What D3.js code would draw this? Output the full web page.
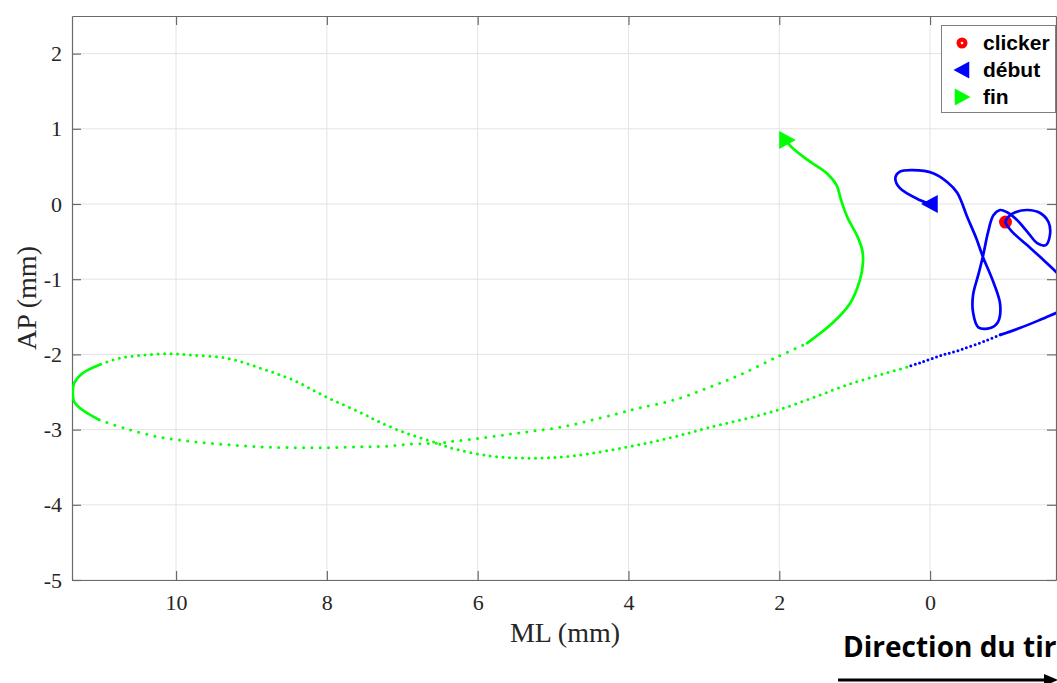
<!DOCTYPE html>
<html>
<head>
<meta charset="utf-8">
<script src="https://cdn.jsdelivr.net/npm/d3@7"></script>
<style>
  html, body { margin: 0; padding: 0; background: #fff; }
  svg { display: block; }
</style>
</head>
<body>
<svg id="chart" width="1057" height="683"></svg>
<script>
// ---------------- DATA (ML, AP in mm) ----------------
const xTicks = [10, 8, 6, 4, 2, 0];
const yTicks = [-5, -4, -3, -2, -1, 0, 1, 2];
const legendLabels = ["clicker", "début", "fin"];

// blue trajectory, dense (solid-looking) part
const blueSolid = [
  [0, 0], [0.13, 0.05], [0.40, 0.21], [0.46, 0.35], [0.40, 0.43], [0.23, 0.45],
  [-0.04, 0.41], [-0.23, 0.29], [-0.36, 0.15], [-0.50, -0.19], [-0.61, -0.45],
  [-0.70, -0.70], [-0.84, -1.04], [-0.93, -1.34], [-0.90, -1.57], [-0.80, -1.65],
  [-0.64, -1.64], [-0.57, -1.44], [-0.57, -1.21], [-0.64, -0.94], [-0.70, -0.70],
  [-0.77, -0.37], [-0.84, -0.15], [-0.93, -0.08], [-1.02, -0.11], [-1.15, -0.21],
  [-1.29, -0.37], [-1.42, -0.52], [-1.53, -0.55], [-1.59, -0.41], [-1.57, -0.24],
  [-1.46, -0.12], [-1.29, -0.08], [-1.13, -0.11], [-1.04, -0.17], [-1.00, -0.24],
  [-1.09, -0.37], [-1.29, -0.55], [-1.50, -0.74], [-1.69, -0.92], [-1.88, -1.08],
  [-1.96, -1.25], [-1.86, -1.37], [-1.69, -1.44], [-1.46, -1.54], [-1.19, -1.65],
  [-0.93, -1.74]
];
// blue trajectory, sparse (dotted) part
const blueDots = [
  [-0.93, -1.74], [-0.76, -1.81], [-0.40, -1.94], [-0.13, -2.02], [0.13, -2.11], [0.31, -2.17]
];
// green trajectory, sparse part going to the far left
const greenDots1 = [
  [0.31, -2.17], [1.02, -2.38], [2.02, -2.74], [2.96, -2.98], [3.45, -3.11], [4.01, -3.23],
  [4.74, -3.35], [5.31, -3.38], [5.84, -3.35], [6.37, -3.24], [6.54, -3.18], [6.94, -3.05],
  [7.30, -2.90], [7.56, -2.77], [8.00, -2.57], [8.45, -2.34], [8.89, -2.18], [9.33, -2.05],
  [9.78, -2.01], [10.09, -1.99], [10.44, -2.01], [10.75, -2.05], [11.02, -2.14]
];
// green trajectory, dense tip of the left loop
const greenTip = [
  [11.02, -2.14], [11.24, -2.25], [11.35, -2.38], [11.37, -2.50], [11.35, -2.63],
  [11.24, -2.74], [11.02, -2.87]
];
// green trajectory, sparse part coming back
const greenDots2 = [
  [11.02, -2.87], [10.66, -2.99], [10.22, -3.10], [9.78, -3.16], [9.33, -3.20], [8.89, -3.23],
  [8.45, -3.24], [8.00, -3.24], [7.56, -3.23], [7.21, -3.22], [6.86, -3.19], [6.54, -3.18],
  [6.28, -3.15], [5.93, -3.11], [5.57, -3.06], [5.27, -3.02], [4.91, -2.97], [4.55, -2.89],
  [4.15, -2.79], [3.85, -2.71], [3.41, -2.61], [2.96, -2.45], [2.52, -2.27], [2.02, -2.03],
  [1.63, -1.85]
];
// green trajectory, dense final part
const greenSolid = [
  [1.63, -1.85], [1.29, -1.58], [1.06, -1.32], [0.93, -1.01], [0.89, -0.78], [0.90, -0.61],
  [0.96, -0.44], [1.10, -0.17], [1.18, 0.05], [1.24, 0.25], [1.37, 0.41], [1.63, 0.59],
  [1.86, 0.78], [1.90, 0.85]
];
const clickerPt = [-1.00, -0.24];
const startPt = [0, 0];
const endPt = [1.90, 0.85];

// ---------------- LAYOUT ----------------
const svg = d3.select("#chart");
const L = 72, R = 1056, T = 16, B = 580;
const x = d3.scaleLinear().domain([11.38, -1.67]).range([L, R]);
const y = d3.scaleLinear().domain([-5, 2.5]).range([B, T]);
const BLUE = "#0000ff", GREEN = "#00ff00", RED = "#ff0000";
const serif = "'Liberation Serif', 'DejaVu Serif', serif";

svg.append("defs").append("clipPath").attr("id", "clip")
  .append("rect").attr("x", L).attr("y", T).attr("width", R - L).attr("height", B - T);

// grid
const grid = svg.append("g");
grid.selectAll(".gx").data(xTicks).join("line")
  .attr("x1", d => x(d)).attr("x2", d => x(d)).attr("y1", T).attr("y2", B)
  .attr("stroke", "#e3e3e3").attr("stroke-width", 1);
grid.selectAll(".gy").data(yTicks).join("line")
  .attr("y1", d => y(d)).attr("y2", d => y(d)).attr("x1", L).attr("x2", R)
  .attr("stroke", "#e3e3e3").attr("stroke-width", 1);

// axes with inward ticks
const tk = 9;
const axB = svg.append("g").attr("transform", `translate(0,${B})`)
  .call(d3.axisBottom(x).tickValues(xTicks).tickSizeInner(-tk).tickSizeOuter(0).tickPadding(14).tickFormat(d => String(d)));
const axT = svg.append("g").attr("transform", `translate(0,${T})`)
  .call(d3.axisTop(x).tickValues(xTicks).tickSizeInner(-tk).tickSizeOuter(0).tickFormat(""));
const axL = svg.append("g").attr("transform", `translate(${L},0)`)
  .call(d3.axisLeft(y).tickValues(yTicks).tickSizeInner(-tk).tickSizeOuter(0).tickPadding(10).tickFormat(d => String(d)));
const axR = svg.append("g").attr("transform", `translate(${R},0)`)
  .call(d3.axisRight(y).tickValues(yTicks).tickSizeInner(-tk).tickSizeOuter(0).tickFormat(""));
[axB, axT, axL, axR].forEach(a => {
  a.select(".domain").attr("stroke", "#6a6a6a").attr("stroke-width", 1.2);
  a.selectAll(".tick line").attr("stroke", "#6a6a6a").attr("stroke-width", 1.2);
  a.selectAll("text").attr("font-family", serif).attr("font-size", 22).attr("fill", "#262626");
});

// trajectories
const plot = svg.append("g").attr("clip-path", "url(#clip)");
const line = d3.line().x(d => x(d[0])).y(d => y(d[1])).curve(d3.curveCatmullRom.alpha(0.5));

plot.append("circle").attr("cx", x(clickerPt[0])).attr("cy", y(clickerPt[1])).attr("r", 6.5).attr("fill", RED);

function solid(data, color) {
  plot.append("path").attr("d", line(data)).attr("fill", "none")
    .attr("stroke", color).attr("stroke-width", 2.7).attr("stroke-linejoin", "round").attr("stroke-linecap", "round");
}
function dotted(data, color, gap) {
  plot.append("path").attr("d", line(data)).attr("fill", "none")
    .attr("stroke", color).attr("stroke-width", 3).attr("stroke-linecap", "round")
    .attr("stroke-dasharray", `0 ${gap}`);
}
solid(blueSolid, BLUE);
dotted(blueDots, BLUE, 4.5);
dotted(greenDots1, GREEN, 6.5);
solid(greenTip, GREEN);
dotted(greenDots2, GREEN, 8.3);
solid(greenSolid, GREEN);

// start / end markers
const tri = 9;
function triLeft(cx, cy, s) { return `M${cx - s},${cy} L${cx + s * 0.85},${cy - s} L${cx + s * 0.85},${cy + s} Z`; }
function triRight(cx, cy, s) { return `M${cx + s},${cy} L${cx - s * 0.85},${cy - s} L${cx - s * 0.85},${cy + s} Z`; }
plot.append("path").attr("d", triLeft(x(startPt[0]), y(startPt[1]), tri)).attr("fill", BLUE);
plot.append("path").attr("d", triRight(x(endPt[0]), y(endPt[1]), tri)).attr("fill", GREEN);

// axis labels
svg.append("text").attr("x", 565).attr("y", 642).attr("text-anchor", "middle")
  .attr("font-family", serif).attr("font-size", 28).attr("fill", "#262626").text("ML (mm)");
svg.append("text").attr("transform", "translate(36,298) rotate(-90)").attr("text-anchor", "middle")
  .attr("font-family", serif).attr("font-size", 28).attr("fill", "#262626").text("AP (mm)");

// legend
const lg = svg.append("g");
lg.append("rect").attr("x", 941.5).attr("y", 25.5).attr("width", 114).attr("height", 87)
  .attr("fill", "#fff").attr("stroke", "#7f7f7f").attr("stroke-width", 1);
const ly = [43, 70, 97];
const lx = 962;
lg.append("circle").attr("cx", lx).attr("cy", ly[0]).attr("r", 5.5).attr("fill", RED);
lg.append("circle").attr("cx", lx).attr("cy", ly[0]).attr("r", 1.3).attr("fill", "#fff");
lg.append("path").attr("d", triLeft(lx, ly[1], 8.5)).attr("fill", BLUE);
lg.append("path").attr("d", triRight(lx, ly[2], 8.5)).attr("fill", GREEN);
lg.selectAll(".lt").data(legendLabels).join("text")
  .attr("x", 983).attr("y", (d, i) => ly[i] + 7)
  .attr("font-family", "'Liberation Sans', Arial, sans-serif").attr("font-weight", "bold")
  .attr("font-size", 21).attr("fill", "#000").text(d => d);

// direction annotation
svg.append("text").attr("x", 843).attr("y", 657)
  .attr("font-family", "'Open Sans', 'Noto Sans', sans-serif").attr("font-weight", "bold")
  .attr("font-size", 28).attr("fill", "#000").text("Direction du tir");
svg.append("line").attr("x1", 838).attr("x2", 1048).attr("y1", 680).attr("y2", 680)
  .attr("stroke", "#000").attr("stroke-width", 3);
svg.append("path").attr("d", "M1058,680 L1044,674 L1044,686 Z").attr("fill", "#000");
</script>
</body>
</html>
